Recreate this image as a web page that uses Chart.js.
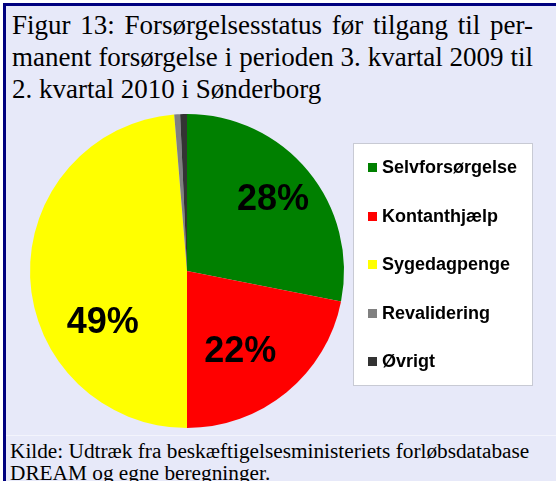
<!DOCTYPE html>
<html>
<head>
<meta charset="utf-8">
<script src="https://cdn.jsdelivr.net/npm/chart.js@4.4.0/dist/chart.umd.min.js"></script>
<style>
    body { margin: 0; background: #fff; }
    #page { position: relative; width: 556px; height: 481px; overflow: hidden; background: #fff; }
    #frame {
        position: absolute; left: 3px; top: 3px; width: 550px; height: 478px;
        background: #E7E9F9;
        border-left: 3px solid #00007F;
        border-top: 3px solid #00007F;
    }
    .serif {
        position: absolute;
        font-family: "Liberation Serif", "Times New Roman", serif;
        color: #000;
        white-space: nowrap;
    }
    .serif div { text-align: left; }
    .serif div.just { text-align: justify; text-align-last: justify; }
    #title { left: 12px; top: 9px; width: 521px; font-size: 27px; line-height: 32px; }
    #chartBox { position: absolute; left: 6px; top: 100px; width: 550px; height: 335px; }
    #rule { position: absolute; left: 6px; top: 435px; width: 550px; height: 1px; background: #F3F4FC; }
    #source { left: 10px; top: 440px; font-size: 21.3px; line-height: 22px; }
</style>
</head>
<body>
<div id="page">
    <div id="frame"></div>
    <div id="title" class="serif">
        <div class="just">Figur 13: Forsørgelsesstatus før tilgang til per-</div>
        <div class="just">manent forsørgelse i perioden 3. kvartal 2009 til</div>
        <div>2. kvartal 2010 i Sønderborg</div>
    </div>
    <div id="chartBox"><canvas id="pie"></canvas></div>
    <div id="rule"></div>
    <div id="source" class="serif">
        <div>Kilde: Udtræk fra beskæftigelsesministeriets forløbsdatabase</div>
        <div>DREAM og egne beregninger.</div>
    </div>
</div>
<script>
/* DATA */
const categories = ["Selvforsørgelse", "Kontanthjælp", "Sygedagpenge", "Revalidering", "Øvrigt"];
const shares = [28.1, 21.9, 48.7, 0.6, 0.7];
const sliceColors = ["#008000", "#FF0000", "#FFFF00", "#808080", "#333333"];
const labelledSlices = [0, 1, 2];

/* PERCENT LABELS (Excel best-fit places them off the mid angle) */
const pctLabels = {
    id: "pctLabels",
    afterDatasetsDraw(chart, args, opts) {
        const ctx = chart.ctx;
        const arcs = chart.getDatasetMeta(0).data;
        const data = chart.data.datasets[0].data;
        const total = data.reduce((a, b) => a + b, 0);

        ctx.save();
        ctx.font = opts.font;
        ctx.fillStyle = "#000";
        ctx.textAlign = "center";
        ctx.textBaseline = "middle";

        opts.slices.forEach((i, k) => {
            const arc = arcs[i];
            const [deg, frac] = opts.place[k];
            const a = deg * Math.PI / 180;
            const x = arc.x + Math.sin(a) * arc.outerRadius * frac;
            const y = arc.y - Math.cos(a) * arc.outerRadius * frac;
            ctx.fillText(Math.round(data[i] / total * 100) + "%", x, y);
        });
        ctx.restore();
    }
};

/* LEGEND IN WHITE BOX */
const boxLegend = {
    id: "boxLegend",
    afterDraw(chart, args, opts) {
        const ctx = chart.ctx;
        const ds = chart.data.datasets[0];
        const b = opts.box;

        ctx.save();
        ctx.fillStyle = "#fff";
        ctx.fillRect(b.x, b.y, b.w, b.h);
        ctx.strokeStyle = "#C8CAD4";
        ctx.lineWidth = 1;
        ctx.strokeRect(b.x + 0.5, b.y + 0.5, b.w - 1, b.h - 1);

        ctx.font = opts.font;
        ctx.textBaseline = "middle";
        chart.data.labels.forEach((lbl, i) => {
            const cy = opts.firstY + i * opts.step;
            ctx.fillStyle = ds.backgroundColor[i];
            ctx.fillRect(opts.boxX, Math.round(cy - opts.size / 2), opts.size, opts.size);
            ctx.fillStyle = "#000";
            ctx.fillText(lbl, opts.textX, cy + 1);
        });
        ctx.restore();
    }
};

new Chart(document.getElementById("pie"), {
    type: "pie",
    data: {
        labels: categories,
        datasets: [{
            data: shares,
            backgroundColor: sliceColors,
            borderWidth: 0
        }]
    },
    options: {
        responsive: true,
        maintainAspectRatio: false,
        animation: false,
        events: [],
        layout: { padding: { left: 24, right: 212, top: 14, bottom: 7 } },
        plugins: {
            legend: { display: false },
            tooltip: { enabled: false },
            pctLabels: {
                slices: labelledSlices,
                place: [[50.5, 0.71], [146.8, 0.62], [238.5, 0.63]],
                font: "bold 36px 'Liberation Sans', Arial, sans-serif"
            },
            boxLegend: {
                box: { x: 347, y: 43, w: 180, h: 243 },
                boxX: 362,
                textX: 376,
                size: 9,
                firstY: 67.5,
                step: 48.5,
                font: "bold 18px 'Liberation Sans', Arial, sans-serif"
            }
        }
    },
    plugins: [pctLabels, boxLegend]
});
</script>
</body>
</html>
